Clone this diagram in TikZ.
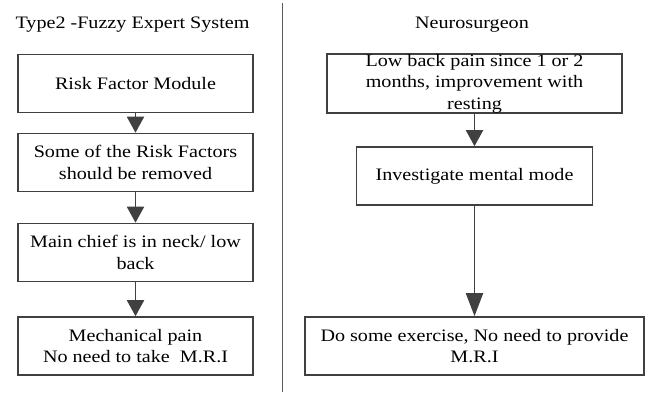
\documentclass[tikz,border=0pt]{standalone}
\usepackage{fontspec}
\setmainfont[FakeStretch=1.15]{Liberation Serif}
\usetikzlibrary{arrows.meta}

\begin{document}
\begin{tikzpicture}[x=1pt,y=-1pt,
  txt/.style={text=black,font=\fontsize{17.5}{21.5}\selectfont},
  box/.style={txt,draw=drawColor,line width=1.6pt,align=center,inner xsep=2pt,inner ysep=0pt,minimum height=58pt},
  link/.style={draw=drawColor,line width=1.9pt,-{Triangle[length=16pt,width=17pt]}},
  longlink/.style={link,-{Triangle[length=23pt,width=17pt]}}]
\definecolor{fillColor}{RGB}{255,255,255}
\definecolor{drawColor}{RGB}{64,64,64}
\definecolor{ruleColor}{RGB}{90,90,90}
\path[use as bounding box,fill=fillColor] (0,0) rectangle (648,392);

% divider between the two columns
\path[draw=ruleColor,line width=1pt] (282,3) -- (282,392);

% left column
\begin{scope}
\node[txt,anchor=base] (fuzzyTitle) at (132.5,28) {Type2 -Fuzzy Expert System};

\node[box,minimum width=235pt] (riskModule) at (135.5, 83.5) {Risk Factor Module};
\node[box,minimum width=235pt] (riskRemoved) at (135.5,162.5) {Some of the Risk Factors\\should be removed};
\node[box,minimum width=235pt] (mainChief) at (135.5,252.5) {Main chief is in neck/ low\\back};
\node[box,minimum width=235pt] (mechPain) at (135.5,346.0) {Mechanical pain\\No need to take\ \ M.R.I};

\path[link] (riskModule) -- (riskRemoved);
\path[link] (riskRemoved) -- (mainChief);
\path[link] (mainChief) -- (mechPain);
\end{scope}

% right column
\begin{scope}
\node[txt,anchor=base] (neuroTitle) at (472,28) {Neurosurgeon};

\node[box,minimum width=295pt,minimum height=57pt] (lowBack) at (474.5, 83.5) {Low back pain since 1 or 2\\months, improvement with\\resting};
\node[box,minimum width=236pt] (mentalMode) at (474.5,176.0) {Investigate mental mode};
\node[box,minimum width=339pt] (exercise) at (474.5,346.0) {Do some exercise, No need to provide\\M.R.I};

\path[link] (lowBack.south) -- (lowBack.south |- mentalMode.north);
\path[longlink] (mentalMode) -- (exercise);
\end{scope}
\end{tikzpicture}
\end{document}
